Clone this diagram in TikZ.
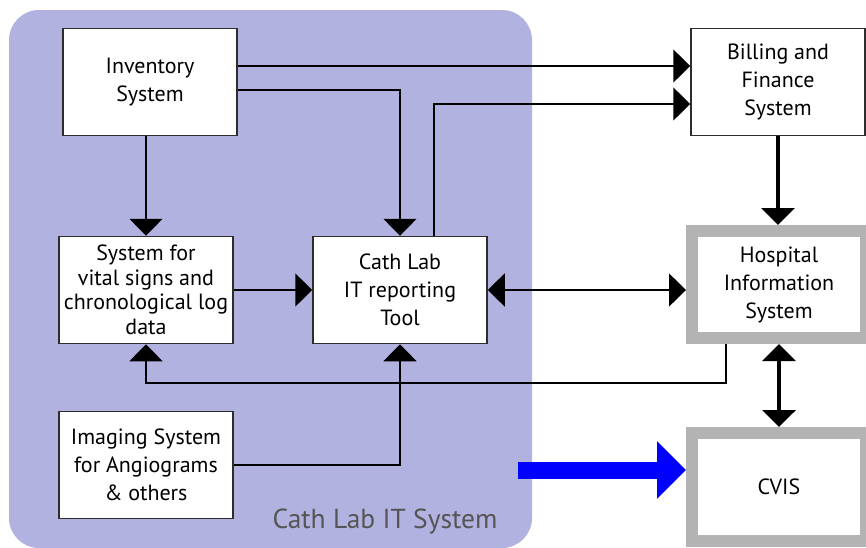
\documentclass[tikz,border=0pt]{standalone}
\usepackage{fontspec}
\setmainfont{PT Sans}
\usetikzlibrary{arrows.meta}
\definecolor{labbg}{RGB}{178,178,224}
\definecolor{hisgray}{RGB}{179,179,179}
\definecolor{boxline}{RGB}{45,45,45}
\definecolor{labtext}{RGB}{85,85,85}

\begin{document}
\begin{tikzpicture}[x=1pt,y=-1pt,
  box/.style={draw=boxline,line width=1.5pt,fill=white,minimum width=174pt,
    minimum height=107pt,align=center,inner sep=0pt,
    font=\fontsize{22}{28}\selectfont},
  bigbox/.style={box,draw=hisgray,line width=12pt},
  link/.style={line width=1.5pt,-{Triangle[width=33pt,length=17pt]}},
  twoway/.style={line width=1.5pt,{Triangle[width=33pt,length=17pt]}-{Triangle[width=33pt,length=17pt]}},
  heavy/.style={line width=4pt,-{Triangle[width=33pt,length=17pt]}},
  heavytwoway/.style={line width=4pt,{Triangle[width=33pt,length=17pt]}-{Triangle[width=33pt,length=17pt]}}]
\useasboundingbox (0,0) rectangle (866,547);

% cath lab area
\fill[labbg,rounded corners=30pt] (9,10) rectangle (532,548);
\node[text=labtext,font=\fontsize{27.5}{30}\selectfont] (area) at (385,522) {Cath Lab IT System};

\node[box] (inv) at (150,82) {Inventory\\System};
\node[box] (bill) at (778,82) {Billing and\\Finance\\System};
\node[box,font=\fontsize{22}{24.5}\selectfont] (vital) at (146,290) {System for\\vital signs and\\chronological log\\data};
\node[box] (cath) at (400,290) {Cath Lab\\IT reporting\\Tool};
\node[box] (img) at (146,465) {Imaging System\\for Angiograms\\\& others};
\node[bigbox] (his) at (779,284.5) {Hospital\\Information\\System};
\node[bigbox,minimum height=108pt] (cvis) at (779,487) {CVIS};

\draw[link] ([yshift=16pt]inv.east) -- ([yshift=16pt]bill.west);
\draw[link] ([yshift=-8pt]inv.east) -| (cath.north);
\draw[link] ([xshift=34pt]cath.north) |- ([yshift=-22pt]bill.west);
\draw[link] (vital.north |- inv.south) -- (vital.north);
\draw[link] (vital.east) -- (cath.west);
\draw[twoway] (cath.east) -- (cath.east -| his.west);
\draw[link] ([xshift=-53pt]his.south) -- ++(0,39) -| (vital.south);
\draw[link] (img.east) -| (cath.south);
\draw[heavy] (bill.south) -- (bill.south |- his.north);
\draw[heavytwoway] (his.south) -- (cvis.north);

% blue arrow into CVIS
\coordinate (bluestart) at (518,470);
\draw[blue,line width=17pt,-{Triangle[width=56pt,length=29pt]}] (bluestart) -- (bluestart -| cvis.west);
\end{tikzpicture}
\end{document}
